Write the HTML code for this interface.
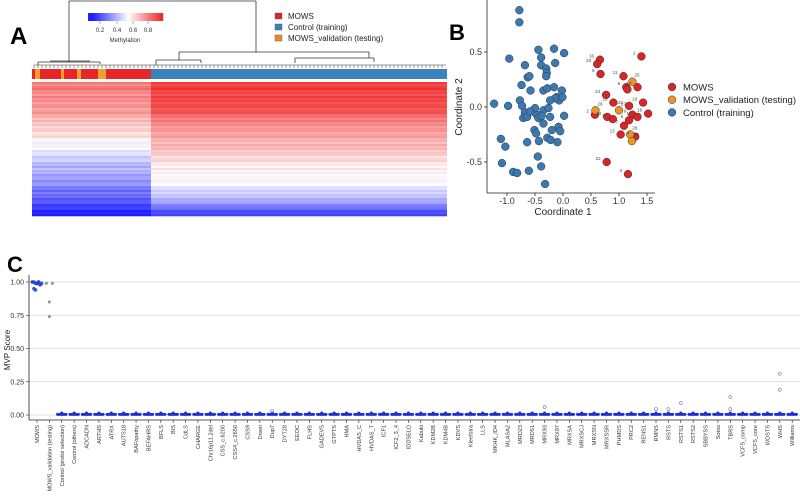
<!DOCTYPE html>
<html><head><meta charset="utf-8"><style>
body{margin:0;background:#fff}
svg{display:block;font-family:"Liberation Sans",Arial,sans-serif}
</style></head><body>
<svg id="fig" width="800" height="497" viewBox="0 0 800 497">
<g id="panelA"></g>
<g id="panelB"></g>
<g id="panelC"></g>
</svg>
<script>
// ---------- Panel A data ----------
const heatBandsMOWS = [0.80,0.80,0.78,0.76,0.74,0.72,0.66,0.64,0.60,0.55,0.52,0.46,0.42,0.40,0.36,0.33,0.28,0.25,0.20,0.12];
const heatBandsCtrl = [0.92,0.92,0.91,0.90,0.89,0.84,0.78,0.75,0.72,0.70,0.68,0.63,0.60,0.58,0.56,0.53,0.48,0.42,0.35,0.20];
const rowTexture = [0.02,-0.03,0.01,0.04,-0.02,0.0,-0.04,0.03,-0.01,0.02,-0.03,0.01];
const annotValidation = [[35,40],[61,64],[77,81],[98,106]];

// ---------- Panel B data ----------
const ctrlX = [-0.78,-0.78,-0.96,-1.23,-0.98,-0.68,-0.63,-0.60,-0.58,-0.77,-0.73,-0.68,-0.71,-0.64,-0.53,-0.44,-0.39,-0.39,-0.30,-0.29,-0.16,0.02,-0.14,-0.35,-0.28,-0.16,-0.11,-0.02,-0.07,-0.01,0.02,-0.35,-0.26,-0.23,-0.47,-0.44,-0.50,-0.38,-0.35,-0.20,-0.08,-0.05,-0.51,-0.48,-0.64,-0.43,-0.28,-0.22,-0.10,-1.11,-1.03,-1.09,-0.89,-0.82,-0.61,-0.45,-0.39,-0.32,-0.30,-0.74,-0.59,-0.14,-0.23];
const ctrlY = [0.88,0.77,0.44,0.03,0.01,0.38,0.27,0.28,0.15,0.06,0.01,-0.05,-0.10,-0.09,-0.04,0.52,0.45,0.38,0.35,0.31,0.53,0.49,0.40,0.15,0.17,0.18,0.09,0.15,0.06,0.09,-0.08,-0.03,-0.01,-0.09,-0.07,-0.10,-0.01,-0.08,-0.15,-0.21,-0.18,-0.22,-0.21,-0.24,-0.32,-0.31,-0.28,-0.30,-0.32,-0.29,-0.36,-0.51,-0.59,-0.60,-0.58,-0.45,-0.54,-0.70,0.28,0.20,-0.04,0.08,0.06];
const mowsX = [1.40,0.66,0.61,0.67,1.08,1.13,1.15,1.33,0.77,0.90,1.18,1.43,1.52,0.57,0.79,0.89,1.24,1.33,1.09,1.18,1.03,1.29,0.78,1.16];
const mowsY = [0.46,0.43,0.39,0.30,0.28,0.18,0.16,0.18,0.11,0.04,0.01,0.04,-0.06,-0.07,-0.09,-0.11,-0.07,-0.09,-0.17,-0.12,-0.25,-0.27,-0.50,-0.61];
const mowsLabels = ["1","16","23","5","11","6","","17","24","15","21","19","18","2","20","12","9","10","7","8","13","4","22","3"];
const valX = [0.58,1.00,1.24,1.20,1.23];
const valY = [-0.03,-0.03,0.23,-0.25,-0.31];
const valLabels = ["29","27","25","28","26"];
const bXTicks = [-1.0,-0.5,0.0,0.5,1.0,1.5];
const bYTicks = [0.5,0.0,-0.5];

// ---------- Panel C data ----------
const categories = ["MOWS","MOWS_validation (testing)","Control (probe selection)","Control (others)","ADCADN","ARTHS","ATRX","AUTS18","BAFopathy","BEFAHRS","BFLS","BIS","CdLS","CHARGE","Chr16p11.2del","CSS_c.6200","CSS4_c.2650","CSS9","Down","Dup7","DYT28","EEOC","FLHS","GADEVS","GTPTS","HMA","HVDAS_C","HVDAS_T","ICF1","ICF2_3_4","IDDSELD","Kabuki","KDM2B","KDM4B","KDVS","Kleefstra","LLS","MKHK_ID4","MLASA2","MRD23","MRD51","MRX93","MRX97","MRXSA","MRXSCJ","MRXSN","MRXSSR","PHMDS","PRC2","RENS1","RMNS","RSTS","RSTS1","RSTS2","SBBYSS","Sotos","TBRS","VCFS_comp","VCFS_core","WDSTS","WHS","Williams"];
const mowsScores = [1.0,1.0,0.99,0.99,1.0,0.98,0.99,1.0,0.95,0.94,0.99,1.0,0.98];
const validationScores = [0.99,0.99,0.85,0.74];
const outlierCats = ["Dup7","MRX93","RMNS","RSTS","RSTS1","TBRS","TBRS","WHS","WHS"];
const outlierScores = [0.03,0.06,0.045,0.045,0.09,0.135,0.045,0.31,0.19];
const cYTicks = [0,0.25,0.5,0.75,1.0];
const cYTickLabels = ["0.00","0.25","0.50","0.75","1.00"];

const NS="http://www.w3.org/2000/svg";
function mk(parent,tag,attrs,text){const e=document.createElementNS(NS,tag);for(const k in attrs)e.setAttribute(k,attrs[k]);if(text!==undefined)e.textContent=text;parent.appendChild(e);return e;}
function methColor(v){v=Math.max(0,Math.min(1,v));let r,g,b;
 if(v<0.55){const t=(v-0.1)/0.45;const u=Math.max(0,Math.min(1,t));r=30+225*u;g=30+225*u;b=255;}
 else{const t=Math.min(1,(v-0.55)/0.42);r=255-15*t;g=255-215*t;b=255-215*t;}
 return `rgb(${r|0},${g|0},${b|0})`;}

// ================= Panel A =================
(function(){
 const A=document.getElementById('panelA');
 let t=mk(A,'text',{x:10,y:44,'font-size':24,'font-weight':'bold',fill:'#000'},'A');
 
 
 const cb=mk(A,'g',{});
 
 
 for(let i=0;i<75;i++){const v=0.05+0.93*i/74;mk(cb,'rect',{x:88+i,y:13,width:1.2,height:8,fill:methColor(v)});}
 [[0.2,100],[0.4,117],[0.6,133],[0.8,148]].forEach(([v,x])=>{
  mk(cb,'line',{x1:x,x2:x,y1:21,y2:24,stroke:'#666','stroke-width':0.5});
  mk(cb,'text',{x:x,y:32,'font-size':6,'text-anchor':'middle',fill:'#333'},v.toFixed(1));});
 mk(cb,'text',{x:125,y:42,'font-size':6,'text-anchor':'middle',fill:'#333'},'Methylation');
 const lg=[['MOWS','#d42a2a'],['Control (training)','#3a7fb8'],['MOWS_validation (testing)','#ec8b1e']];
 lg.forEach((d,i)=>{const g=mk(A,'g',{});
  
  
  mk(g,'rect',{x:275,y:13+i*11,width:7,height:6,fill:d[1],stroke:'#555','stroke-width':0.4});
  mk(g,'text',{x:288,y:19+i*11,'font-size':8,fill:'#222'},d[0]);});
 const dg=mk(A,'g',{stroke:'#333','stroke-width':0.8,fill:'none'});
 
 
 const segs=[[69,1,256,1],[69,1,69,62],[256,1,256,52],[179,52,369,52],[179,52,179,60],[369,52,369,58],[156,60,201,60],[156,60,156,65],[201,60,201,63],[295,58,374,58],[295,58,295,63],[374,58,374,62],[38,62,100,62],[38,62,38,65],[100,62,100,64],[50,61,90,61]];
 segs.forEach(s=>mk(dg,'line',{x1:s[0],y1:s[1],x2:s[2],y2:s[3]}));
 for(let x=34;x<446;x+=4){mk(dg,'line',{x1:x,y1:65,x2:x,y2:68,'stroke-width':0.5});mk(dg,'line',{x1:x,y1:65,x2:x+4,y2:65,'stroke-width':0.5});}
 const an=mk(A,'g',{});
 
 
 mk(an,'rect',{x:32,y:69,width:119,height:10,fill:'#e8262a'});
 mk(an,'rect',{x:151,y:69,width:296,height:10,fill:'#3a82bd'});
 annotValidation.forEach(r=>mk(an,'rect',{x:r[0],y:69,width:r[1]-r[0],height:10,fill:'#f0a030'}));
 const hm=mk(A,'g',{});
 
 
 const top=82,bot=216,rows=67,rh=(bot-top)/rows,nb=heatBandsMOWS.length;
 for(let r=0;r<rows;r++){
  const f=r/rows*nb,bi=Math.min(nb-1,Math.floor(f)),bj=Math.min(nb-1,bi+1),w=f-bi;
  const tex=rowTexture[r%rowTexture.length];
  const vm=heatBandsMOWS[bi]*(1-w)+heatBandsMOWS[bj]*w+tex;
  const vc=heatBandsCtrl[bi]*(1-w)+heatBandsCtrl[bj]*w+tex*0.8;
  mk(hm,'rect',{x:32,y:top+r*rh,width:119,height:rh+0.3,fill:methColor(vm)});
  mk(hm,'rect',{x:151,y:top+r*rh,width:296,height:rh+0.3,fill:methColor(vc)});
 }
})();

// ================= Panel B =================
(function(){
 const B=document.getElementById('panelB');
 const x0=563,sx=56,y0=107,sy=110;
 const X=v=>x0+v*sx, Y=v=>y0-v*sy;
 let t=mk(B,'text',{x:449,y:40,'font-size':22,'font-weight':'bold',fill:'#000'},'B');
 
 
 const ax=mk(B,'g',{stroke:'#222','stroke-width':0.8});
 
 
 mk(ax,'line',{x1:487,y1:0,x2:487,y2:193});
 mk(ax,'line',{x1:487,y1:193,x2:655,y2:193});
 bXTicks.forEach(v=>{mk(ax,'line',{x1:X(v),x2:X(v),y1:193,y2:196});
  mk(B,'text',{x:X(v),y:204,'font-size':9,'text-anchor':'middle',fill:'#333'},v.toFixed(1));});
 bYTicks.forEach(v=>{mk(ax,'line',{x1:484,x2:487,y1:Y(v),y2:Y(v)});
  mk(B,'text',{x:482,y:Y(v)+3,'font-size':9,'text-anchor':'end',fill:'#333'},v.toFixed(1));});
 let xl=mk(B,'text',{x:563,y:215,'font-size':10,'text-anchor':'middle',fill:'#222'},'Coordinate 1');
 
 
 let yl=mk(B,'text',{x:0,y:0,'font-size':10,'text-anchor':'middle',fill:'#222',transform:'translate(462,107) rotate(-90)'},'Coordinate 2');
 
 
 const pts=mk(B,'g',{'stroke':'#2a3540','stroke-width':0.5});
 for(let i=0;i<ctrlX.length;i++){const c=mk(pts,'circle',{cx:X(ctrlX[i]),cy:Y(ctrlY[i]),r:3.9,fill:'#3b79b0'});
  
  }
 for(let i=0;i<mowsX.length;i++){const c=mk(pts,'circle',{cx:X(mowsX[i]),cy:Y(mowsY[i]),r:3.9,fill:'#dc2424'});
  
  
  if(mowsLabels[i])mk(B,'text',{x:X(mowsX[i])-6,y:Y(mowsY[i])-2,'font-size':4.5,'text-anchor':'end',fill:'#444'},mowsLabels[i]);}
 for(let i=0;i<valX.length;i++){const c=mk(pts,'circle',{cx:X(valX[i]),cy:Y(valY[i]),r:3.9,fill:'#ee9420'});
  
  
  mk(B,'text',{x:X(valX[i])+2,y:Y(valY[i])-5,'font-size':4.5,fill:'#444'},valLabels[i]);}
 const lg=[['MOWS','#dc2424'],['MOWS_validation (testing)','#ee9420'],['Control (training)','#3b79b0']];
 lg.forEach((d,i)=>{const g=mk(B,'g',{});
  
  
  mk(g,'circle',{cx:672,cy:87+i*12.7,r:3.9,fill:d[1],stroke:'#2a3540','stroke-width':0.5});
  mk(g,'text',{x:683,y:90.5+i*12.7,'font-size':9.5,fill:'#222'},d[0]);});
})();

// ================= Panel C =================
(function(){
 const C=document.getElementById('panelC');
 const left=29,right=800,base=415,scale=133,cx0=37,step=12.38;
 const Y=v=>base-v*scale, X=i=>cx0+i*step;
 const Xc=name=>X(categories.indexOf(name));
 let t=mk(C,'text',{x:7,y:272,'font-size':22,'font-weight':'bold',fill:'#000'},'C');
 
 
 const gr=mk(C,'g',{stroke:'#d8d8d8','stroke-width':0.8});
 
 
 cYTicks.forEach((v,i)=>{mk(gr,'line',{x1:left,x2:right,y1:Y(v),y2:Y(v)});
  mk(C,'text',{x:24,y:Y(v)+2.5,'font-size':7,'text-anchor':'end',fill:'#333'},cYTickLabels[i]);
  mk(C,'line',{x1:26,x2:left,y1:Y(v),y2:Y(v),stroke:'#333','stroke-width':0.6});});
 let yl=mk(C,'text',{x:0,y:0,'font-size':8,'text-anchor':'middle',fill:'#222',transform:'translate(10,350) rotate(-90)'},'MVP Score');
 
 
 const ax=mk(C,'g',{stroke:'#222','stroke-width':0.8});
 mk(ax,'line',{x1:left,y1:275,x2:left,y2:420});
 mk(ax,'line',{x1:left,y1:420,x2:right,y2:420});
 const pts=mk(C,'g',{});
 
 
 const offs=[-4.2,-2.8,-1.4,0,1.4,2.8,4.2];
 categories.forEach((c,i)=>{
  mk(ax,'line',{x1:X(i),x2:X(i),y1:420,y2:423,'stroke-width':0.6});
  const lb=mk(C,'text',{x:0,y:0,'font-size':5.6,'text-anchor':'end',fill:'#333',transform:`translate(${X(i)+2},425) rotate(-90)`},c);
  
  
  if(i>=2){offs.forEach(o=>{const p=mk(pts,'circle',{cx:X(i)+o,cy:Y(0.005),r:1.5,fill:'#1f2fd6'});
   
   });
   mk(pts,'circle',{cx:X(i),cy:Y(0.015),r:1.5,fill:'#1f2fd6'});}
 });
 mowsScores.forEach((v,k)=>{const p=mk(pts,'circle',{cx:Xc('MOWS')+offs[k%7]*1.1,cy:Y(v),r:1.8,fill:'#1f3fd6','fill-opacity':0.85});
  
  });
 validationScores.forEach((v,k)=>{const p=mk(pts,'circle',{cx:Xc('MOWS_validation (testing)')+(k<2?(k?3:-3):0),cy:Y(v),r:1.4,fill:'#999',stroke:'#888','stroke-width':0.3});
  
  });
 outlierCats.forEach((c,k)=>{const p=mk(pts,'circle',{cx:Xc(c),cy:Y(outlierScores[k]),r:1.5,fill:'none',stroke:'#7a7aa8','stroke-width':0.6});
  
  });
})();
</script>
</body></html>
